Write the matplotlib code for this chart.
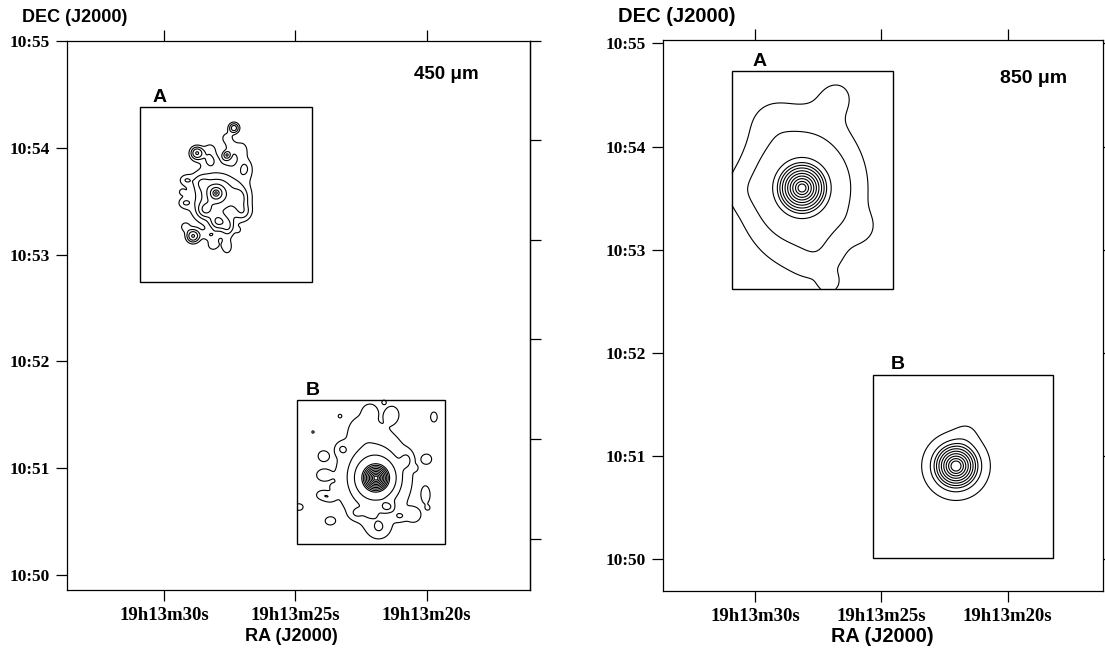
import matplotlib.pyplot as plt
from matplotlib.patches import Rectangle
import numpy as np

# axis ticks
ra_ticks = [30, 25, 20]
ra_labels = ['19h13m30s', '19h13m25s', '19h13m20s']
dec_ticks = [50, 51, 52, 53, 54, 55]
dec_labels = ['10:50', '10:51', '10:52', '10:53', '10:54', '10:55']
# the right-hand ticks of the 450 panel do not line up with the left ones
dec_right_450 = [55.007, 54.075, 53.137, 52.208, 51.27, 50.33]

# sub-map boxes: RA east, RA west (s of 19h13m), DEC south, DEC north (arcmin of 10d)
box_450a = [30.93, 24.37, 52.744, 54.386]
box_450b = [24.94, 19.30, 50.286, 51.637]
box_850a = [30.91, 24.54, 52.62, 54.73]
box_850b = [25.33, 18.20, 50.01, 51.79]

# emission components: ra (s), dec (min), peak, width along RA ("), width along DEC ("), shape (1 exp, 2 gauss)
src_450a = [
    (28.030, 53.579, 3.0, 3, 3, 1),
    (27.916, 53.551, 1.25, 11, 11, 2),
    (27.344, 54.189, 1.4, 2, 2, 2),
    (27.611, 54.095, 0.5, 2.5, 2.5, 2),
    (27.420, 54.010, 0.5, 2.5, 2.5, 2),
    (27.039, 53.982, 0.55, 2.5, 3.5, 2),
    (28.754, 53.954, 1.6, 2.5, 2.5, 2),
    (28.258, 53.992, 0.45, 2.5, 2.5, 2),
    (27.611, 53.935, 1.0, 1.5, 1.5, 2),
    (29.173, 53.701, 0.5, 2.5, 2, 2),
    (29.325, 53.588, 0.36, 1.2, 1.2, 2),
    (29.211, 53.485, 0.5, 2.5, 2, 2),
    (29.211, 53.260, 0.45, 2, 2, 2),
    (28.906, 53.175, 1.6, 2.5, 2.5, 2),
    (28.258, 53.185, 0.5, 3.5, 2, 2),
    (28.144, 53.091, 0.5, 2.5, 2.5, 2),
    (27.611, 53.072, 0.5, 2.5, 3.5, 2),
    (27.573, 53.260, 0.8, 2.5, 3.5, 2),
    (27.192, 53.232, 0.36, 1.2, 1.2, 2),
    (28.335, 52.950, 0.34, 1, 1, 2),
    (27.954, 53.307, 1.2, 3, 3, 2),
    (28.449, 53.420, 1.0, 3, 3, 2),
    (26.925, 53.813, 0.6, 3, 4, 2),
    (27.115, 53.532, 0.7, 3, 4, 2),
    (28.258, 53.888, 0.6, 3, 3, 2),
    (27.001, 53.400, 0.6, 3, 3, 2),
    (28.600, 53.680, 0.5, 3, 3, 2),
]
lev_450a = [0.35, 0.7, 1.1, 1.6, 2.2, 2.9, 3.6]

src_450b = [
    (21.932, 50.905, 10, 4, 4, 1),
    (22.028, 50.924, 1.0, 13, 18, 2),
    (22.466, 51.374, 0.35, 5, 5, 2),
    (23.229, 51.177, 0.5, 2.5, 2.5, 2),
    (23.952, 51.112, 0.45, 2.5, 2.5, 2),
    (23.952, 50.933, 0.5, 3, 2.5, 2),
    (20.751, 51.074, 0.5, 2.5, 3.5, 2),
    (19.988, 51.083, 0.45, 2.5, 2.5, 2),
    (20.446, 50.999, 0.33, 1.2, 1.2, 2),
    (23.571, 50.821, 0.33, 1.2, 1.2, 2),
    (24.010, 50.746, 0.45, 2.5, 2, 2),
    (23.724, 50.727, 0.45, 2.5, 2, 2),
    (24.867, 50.633, 0.45, 2.5, 2, 2),
    (20.027, 50.746, 0.5, 2, 4, 2),
    (21.589, 50.633, 0.5, 2, 2, 2),
    (21.399, 50.633, 0.5, 2, 2, 2),
    (19.950, 50.624, 0.33, 1.2, 1.2, 2),
    (22.161, 50.577, 0.5, 2.5, 2, 2),
    (22.657, 50.577, 0.45, 2.5, 2, 2),
    (21.018, 50.549, 0.5, 2.5, 2, 2),
    (20.484, 50.558, 0.55, 3, 3, 2),
    (23.686, 50.502, 0.45, 2.5, 2, 2),
    (21.818, 50.436, 0.5, 4, 4, 2),
    (22.161, 51.534, 0.5, 3, 3, 2),
    (21.322, 51.506, 0.5, 3, 3.5, 2),
    (19.722, 51.478, 0.45, 2, 3, 2),
    (21.627, 51.618, 0.34, 1.2, 1.2, 2),
    (23.305, 51.487, 0.33, 1.2, 1.2, 2),
    (24.333, 51.337, 0.33, 1.2, 1.2, 2),
]
lev_450b = [0.3, 0.7, 1.2, 2.25, 2.6, 3.03, 3.55, 4.2, 4.98, 5.95, 7.13, 8.6]

src_850a = [
    (28.140, 53.598, 10, 9, 9, 1),
    (28.140, 53.598, 1.2, 22, 30, 2),
    (26.715, 54.499, 0.35, 9, 9, 2),
    (29.406, 54.250, 0.25, 9, 9, 2),
    (30.515, 53.580, 0.25, 8, 8, 2),
    (27.500, 52.920, 0.3, 9, 9, 2),
    (25.770, 53.210, 0.3, 7, 7, 2),
    (27.070, 52.680, 0.6, 4, 4, 2),
]
lev_850a = [0.4, 0.95, 2.4, 3.0, 3.4, 3.86, 4.43, 5.06, 5.8, 6.66, 7.74, 8.93]

src_850b = [
    (22.046, 50.904, 10, 11, 11, 1),
    (21.571, 51.272, 0.5, 6, 6, 2),
]
lev_850b = [1.62, 2.56, 3.13, 3.56, 4.05, 4.6, 5.23, 5.95, 6.76, 7.68]


def sky(box, src, n=360):
    ra = np.linspace(box[1], box[0], n)
    dec = np.linspace(box[2], box[3], n)
    RA, DEC = np.meshgrid(ra, dec)
    z = np.zeros_like(RA)
    for r0, d0, a, wx, wy, p in src:
        rr = np.hypot((RA - r0) * 14.73 / wx, (DEC - d0) * 60 / wy)
        z += a * np.exp(-rr**p / p)
    return RA, DEC, z


def draw_box(ax, box, src, lev, name, off):
    RA, DEC, z = sky(box, src)
    ax.contour(RA, DEC, z, levels=lev, colors='k', linewidths=0.8)
    ax.add_patch(Rectangle((box[1], box[2]), box[0] - box[1], box[3] - box[2],
                           fill=False, ec='k', lw=1.0))
    ax.annotate(name, xy=(box[0], box[3]), xytext=(off, 1), textcoords='offset points',
                ha='left', va='bottom', fontsize=14, fontweight='bold', family='Liberation Sans')


fig = plt.figure(figsize=(11.05, 6.51), dpi=100)

# 450 micron panel
ax1 = fig.add_axes([66.7 / 1105, 1 - 590 / 651, (530 - 66.7) / 1105, (590 - 40.7) / 651])
ax1.set_xlim(33.72, 16.06)
ax1.set_ylim(49.855, 55.0075)
draw_box(ax1, box_450a, src_450a, lev_450a, 'A', 9)
draw_box(ax1, box_450b, src_450b, lev_450b, 'B', 6)
ax1.text(20.5, 54.69, '450 \u03bcm', fontsize=13.5, fontweight='bold', family='Liberation Sans',
         ha='left', va='center')

# 850 micron panel
ax2 = fig.add_axes([662.7 / 1105, 1 - 591 / 651, (1103 - 662.7) / 1105, (591 - 40) / 651])
ax2.set_xlim(33.653, 16.229)
ax2.set_ylim(49.693, 55.032)
draw_box(ax2, box_850a, src_850a, lev_850a, 'A', 15)
draw_box(ax2, box_850b, src_850b, lev_850b, 'B', 13)
ax2.text(20.3, 54.66, '850 \u03bcm', fontsize=14, fontweight='bold', family='Liberation Sans',
         ha='left', va='center')

for ax, ysz in [(ax1, 13), (ax2, 14.5)]:
    ax.set_xticks(ra_ticks)
    ax.set_xticklabels(ra_labels)
    ax.set_yticks(dec_ticks)
    ax.set_yticklabels(dec_labels)
    for lab in ax.get_xticklabels():
        lab.set_family('Liberation Serif')
        lab.set_fontweight('bold')
        lab.set_fontsize(13.5)
    for lab in ax.get_yticklabels():
        lab.set_family('Liberation Serif')
        lab.set_fontweight('bold')
        lab.set_fontsize(12.5)
    ax.tick_params(direction='out', length=8, width=0.9, pad=4, top=True)
    for s in ax.spines.values():
        s.set_linewidth(0.9)
    ax.annotate('DEC (J2000)', xy=(0, 1), xycoords='axes fraction', xytext=(-32, 17),
                textcoords='offset points', ha='left', va='center', fontsize=ysz,
                fontweight='bold', family='Liberation Sans')

ax1.text(0.484, -0.0855, 'RA (J2000)', transform=ax1.transAxes, ha='center', va='center',
         fontsize=13, fontweight='bold', family='Liberation Sans')
ax2.text(0.498, -0.083, 'RA (J2000)', transform=ax2.transAxes, ha='center', va='center',
         fontsize=14.3, fontweight='bold', family='Liberation Sans')

# right ticks
ax2.tick_params(right=True)
sec = ax1.secondary_yaxis('right')
sec.set_yticks(dec_right_450)
sec.set_yticklabels([])
sec.tick_params(direction='out', length=8, width=0.9)
sec.spines['right'].set_linewidth(0.9)

fig.savefig('out.png', dpi=100)
